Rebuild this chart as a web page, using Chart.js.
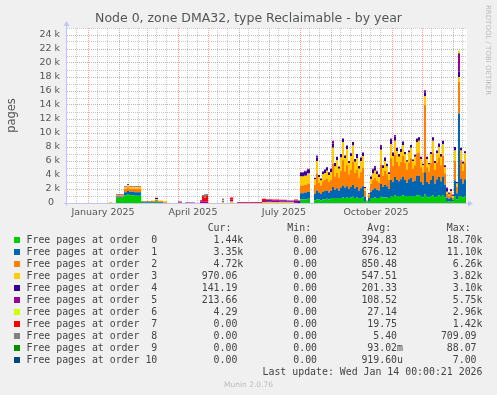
<!DOCTYPE html>
<html>
<head>
<meta charset="utf-8">
<script src="https://cdn.jsdelivr.net/npm/chart.js@4.4.1/dist/chart.umd.min.js"></script>
<style>
body { margin: 0; background: #f0f0f0; }
#wrap { position: relative; width: 497px; height: 395px; font-family: "DejaVu Sans", sans-serif; }
#c { position: absolute; left: 0; top: 0; }
.t { position: absolute; white-space: pre; }
.mono { font-family: "DejaVu Sans Mono", monospace; font-size: 9.9px; line-height: 12px; color: #444; }
.sq { position: absolute; width: 6px; height: 6px; }
</style>
</head>
<body>
<div id="wrap">
<canvas id="c" width="497" height="395"></canvas>
<div class="t" id="title" style="left:0;width:497px;top:10px;text-align:center;font-size:12.5px;line-height:15px;color:#555;">Node 0, zone DMA32, type Reclaimable - by year</div>
<div class="t" style="left:483px;top:5px;writing-mode:vertical-rl;font-size:7px;line-height:9px;color:#bbb;">RRDTOOL / TOBI OETIKER</div>
<div id="legend"></div>
<div class="t" style="left:0;width:497px;top:380px;text-align:center;font-size:7.5px;line-height:9px;color:#bbb;">Munin 2.0.76</div>
</div>
<script>
// x = day number, 0 = 11 Dec 2024, 400 = 14 Jan 2026 ; values in thousands of pages
var days = [0,42,45,49,57,60,62,67,74,84, 88,91,96,100,111,115,118,128,133,135, 137,139,141,155,157,163,166,170,195,199, 205,212,220,227,231,233,237,240,243,
  247,249,251,253,255,257,259,261,263,265, 267,269,271,273,275,277,279,281,283,285,
  287,289,291,293,295,297,299,301,303,305, 307,309,311,313,315,317,319,321,323,325,
  327,329,331,333,335,337,339,341,343,345, 347,349,351,353,355,357,359,361,363,365,
  367,369,371,373,375,377,379,381,383,385, 387,389,391,393,395,397,399];

var order0 = [0,0,0,0.75,1.1,1.2,1.1,1.05,0.02,0.05, 0.25,0,0,0,0,0,0,0,0,0, 0,0,0,0,0,0,0,0,0,0, 0,0,0,0,0,0.5,0.5,0.6,0,
  0.4,0.5,0.5,0.4,0.5,0.5,0.6,0.5,0.6,0.7, 0.6,0.7,0.6,0.7,0.8,0.7,0.8,0.7,0.8,0.9,
  0.7,0.8,0.6,0.7,0.8,0.3,0.1,0.3,0.6,0.7, 0.8,0.7,0.7,0.9,0.8,0.8,0.8,0.7,1.0,0.9,
  1.1,1.0,0.9,1.0,1.1,1.0,0.9,1.0,1.0,0.9, 1.0,1.1,1.1,0.9,0.8,1.2,0.9,0.8,1.0,1.1,
  0.8,1.0,1.1,0.9,1.1,0.8,0.3,0.2,0.3,0.2, 1.0,0.5,0.9,1.0,0.8,1.0,1.44];
var order1 = [0,0,0,0.15,0.45,0.5,0.5,0.5,0.15,0.1, 0.1,0.1,0,0,0,0,0,0,0,0, 0,0,0,0,0,0,0,0,0,0, 0,0,0,0,0,0.9,1.0,1.0,0,
  0.9,1.3,1.0,0.9,1.1,1.2,1.2,1.0,1.1,1.6, 1.3,1.4,1.2,1.5,1.7,1.5,1.6,1.3,1.5,1.7,
  1.4,1.5,1.2,1.4,1.6,0.6,0.1,0.4,1.0,1.2, 1.3,1.2,1.1,1.8,1.5,1.8,1.6,1.3,2.3,2.1,
  2.6,2.3,2.2,2.4,2.7,2.3,2.0,2.4,2.6,2.1, 2.2,2.8,2.8,2.1,1.8,3.2,2.1,1.9,2.3,2.8,
  2.0,2.4,2.6,2.2,2.7,1.8,0.5,0.4,0.5,0.3, 2.2,0.9,11.9,2.5,2.0,2.4,3.35];
var order2 = [0,0,0,0.2,0.5,0.55,0.45,0.5,0.1,0.15, 0.05,0.15,0.1,0,0,0,0,0,0,0, 0,0,0,0,0,0,0,0,0,0, 0,0,0,0,0,1.1,1.1,1.2,0,
  1.3,2.4,1.4,1.2,1.5,1.6,1.7,1.5,1.6,3.3, 1.9,2.2,1.8,2.4,3.6,2.3,3.0,2.1,2.5,3.3,
  2.2,2.4,1.8,2.3,2.6,0.8,0.1,0.4,1.1,1.4, 1.5,1.3,1.1,2.8,1.6,2.0,1.7,1.3,3.1,2.3,
  3.2,2.6,2.2,2.5,2.9,2.4,1.9,2.4,2.8,1.9, 2.2,3.2,3.3,2.1,1.8,9.6,2.1,1.8,2.4,3.3,
  1.9,2.4,2.8,2.3,3.0,1.6,0.5,0.4,0.6,0.3, 2.8,0.9,4.5,2.6,1.8,2.4,4.72];
var order3 = [0,0.15,0,0.05,0.2,0.3,0.25,0.25,0.03,0.05, 0.15,0.1,0.15,0,0.05,0,0,0,0,0, 0,0,0,0.1,0,0.2,0,0,0.1,0.15, 0.1,0.15,0.12,0,0,1.3,1.3,1.4,0,
  0.8,1.8,0.8,0.7,1.0,1.0,1.1,1.0,1.1,2.3, 1.4,1.8,1.3,1.9,2.6,1.9,2.3,1.6,1.9,2.3,
  1.6,1.7,1.3,1.6,1.7,0.4,0.05,0.2,0.7,0.9, 1.0,0.9,0.8,2.1,1.1,1.4,1.1,0.8,2.0,1.4,
  2.0,1.5,1.3,1.4,1.6,1.3,1.1,1.4,1.5,1.1, 1.2,1.6,1.7,1.2,1.0,1.3,1.2,1.0,1.3,1.7,
  1.0,1.3,1.5,1.2,1.6,0.9,0.3,0.2,0.3,0.2, 1.5,0.5,0.7,1.4,1.0,1.3,0.97];
var order4 = [0,0,0,0.05,0.1,0.1,0.05,0.05,0,0, 0.15,0,0,0,0,0,0,0,0,0, 0,0,0,0,0,0,0,0,0,0.05, 0.05,0.05,0.05,0.1,0.15,0.5,0.6,0.6,0,
  0.2,0.5,0.3,0.3,0.4,0.5,0.5,0.4,0.5,0.6, 0.5,0.5,0.3,0.5,0.5,0.4,0.5,0.3,0.4,0.5,
  0.4,0.6,0.4,0.5,0.5,0.2,0.05,0.1,0.4,0.5, 0.5,0.4,0.3,0.5,0.4,0.5,0.4,0.3,0.6,0.5,
  0.6,0.5,0.4,0.4,0.5,0.3,0.2,0.3,0.4,0.2, 0.3,0.5,0.5,0.3,0.2,0.5,0.3,0.2,0.3,0.5,
  0.3,0.4,0.5,0.4,0.5,0.3,0.4,0.2,0.2,0.1, 0.5,0.2,0.8,0.4,0.3,0.3,0.14];
var order5 = [0,0,0,0,0,0.05,0,0,0,0, 0.05,0,0,0,0.15,0,0.08,0,0.2,0.25, 0.25,0.2,0,0.15,0,0.3,0,0.05,0.2,0.25, 0.25,0.2,0.2,0.25,0.2,0.1,0.1,0.1,0,
  0,0.3,0,0,0,0,0,0,0,0.4, 0,0,0,0,0,0,0,0,0,0,
  0,0,0,0,0,0,0,0,0,0.2, 0.2,0.1,0.1,0.2,0,0,0,0,0.2,0,
  0.2,0,0,0,0,0,0,0,0,0, 0,0,0,0,0,0.3,0,0,0,0,
  0,0,0,0,0,0,0.2,0.1,0.1,0.1, 0,0,2.6,0,0,0,0.21];
var order6 = [0,0,0,0,0,0,0,0,0,0, 0,0,0,0,0,0,0,0,0,0, 0,0,0,0.1,0,0,0,0,0,0, 0,0,0,0,0,0,0,0,0,
  0,0,0,0,0,0,0,0,0,0, 0,0,0,0,0,0,0,0,0,0,
  0,0,0,0,0,0,0,0,0,0, 0,0,0,0,0,0,0,0,0,0,
  0,0,0,0,0,0,0,0,0,0, 0,0,0,0,0,0,0,0,0,0,
  0,0,0,0,0,0,0,0,0,0, 0,0,0.4,0,0,0,0.004];
var order7 = [0,0,0,0,0,0,0,0,0,0, 0,0,0,0,0,0,0,0,0.2,0.7, 0.5,0.8,0,0,0,0.3,0,0.08,0.3,0.1, 0.1,0.05,0,0.15,0,0,0,0,0,
  0,0,0,0,0,0,0,0,0,0, 0,0,0,0,0,0,0,0,0,0,
  0,0,0,0,0,0,0,0,0,0, 0,0,0,0,0,0,0,0,0,0,
  0,0,0,0,0,0,0,0,0,0, 0,0,0,0,0,0,0,0,0,0,
  0,0,0,0,0,0,0,0,0,0, 0,0,0,0,0,0,0];
var order8 = [0,0,0,0,0,0,0,0,0,0, 0,0,0,0,0,0,0,0,0,0.2, 0.5,0.3,0,0.3,0,0,0,0,0,0, 0,0,0,0,0,0,0,0,0,
  0,0,0,0,0,0,0,0,0,0, 0,0,0,0,0,0,0,0,0,0,
  0,0,0,0,0,0,0,0,0,0, 0,0,0,0,0,0,0,0,0,0,
  0,0,0,0,0,0,0,0,0,0, 0,0,0,0,0,0,0,0,0,0,
  0,0,0,0,0,0,0,0,0,0, 0,0,0,0,0,0,0];
var order9 = [0,0,0,0,0,0,0,0,0,0, 0,0,0,0,0,0,0,0,0,0, 0,0,0,0,0,0,0,0,0,0, 0,0,0,0,0,0,0,0,0,
  0,0,0,0,0,0,0,0,0,0, 0,0,0,0,0,0,0,0,0,0,
  0,0,0,0,0,0,0,0,0,0, 0,0,0,0,0,0,0,0,0,0,
  0,0,0,0,0,0,0,0,0,0, 0,0,0,0,0,0,0,0,0,0,
  0,0,0,0,0,0,0,0,0,0, 0,0,0,0,0,0,0];
var order10 = [0,0,0,0,0,0,0,0,0,0, 0,0,0,0,0,0,0,0,0,0, 0,0,0,0,0,0,0,0,0,0, 0,0,0,0,0,0,0,0,0,
  0,0,0,0,0,0,0,0,0,0, 0,0,0,0,0,0,0,0,0,0,
  0,0,0,0,0,0,0,0,0,0, 0,0,0,0,0,0,0,0,0,0,
  0,0,0,0,0,0,0,0,0,0, 0,0,0,0,0,0,0,0,0,0,
  0,0,0,0,0,0,0,0,0,0, 0,0,0,0,0,0,0];

var seriesNames = ['Free pages at order  0', 'Free pages at order  1', 'Free pages at order  2', 'Free pages at order  3',
  'Free pages at order  4', 'Free pages at order  5', 'Free pages at order  6', 'Free pages at order  7',
  'Free pages at order  8', 'Free pages at order  9', 'Free pages at order 10'];
var seriesColors = ['#00cc00', '#0066b3', '#ff8000', '#ffcc00', '#330099', '#990099', '#ccff00', '#ff0000', '#808080', '#008f00', '#00487d'];
var curText = ['1.44k', '3.35k', '4.72k', '970.06 ', '141.19 ', '213.66 ', '4.29 ', '0.00 ', '0.00 ', '0.00 ', '0.00 '];
var minText = ['0.00 ', '0.00 ', '0.00 ', '0.00 ', '0.00 ', '0.00 ', '0.00 ', '0.00 ', '0.00 ', '0.00 ', '0.00 '];
var avgText = ['394.83 ', '676.12 ', '850.48 ', '547.51 ', '201.33 ', '108.52 ', '27.14 ', '19.75 ', '5.40 ', '93.02m', '919.60u'];
var maxText = ['18.70k', '11.10k', '6.26k', '3.82k', '3.10k', '5.75k', '2.96k', '1.42k', '709.09 ', '88.07 ', '7.00 '];

var monthStarts = [21, 52, 80, 111, 141, 172, 202, 233, 264, 294, 325, 355, 386];
var minorDays = [9, 30, 40, 61, 71, 89, 99, 120, 130, 150, 160, 181, 191, 211, 221, 242, 252, 273, 283, 303, 313, 334, 344, 364, 374, 395];
var labelDays = [36, 126, 217, 309];
var monthLabels = ['January 2025', 'April 2025', 'July 2025', 'October 2025'];

var majorGrid = 'rgba(230, 90, 90, 0.55)';
var minorGrid = 'rgba(150, 150, 150, 0.5)';
var axisColor = '#c4c4ee';

var allSeries = [order0, order1, order2, order3, order4, order5, order6, order7, order8, order9, order10];
var datasets = allSeries.map(function(s, i) {
  return {
    label: seriesNames[i],
    data: s.map(function(v, j) { return {x: days[j], y: v}; }),
    backgroundColor: seriesColors[i],
    borderColor: 'rgba(0,0,0,0)',
    borderWidth: 0,
    pointRadius: 0,
    stepped: true,
    fill: i === 0 ? 'origin' : '-1'
  };
});

var xTicks = monthStarts.concat(minorDays, labelDays).sort(function(a, b) { return a - b; });

var bgPlugin = {
  id: 'bg',
  beforeDraw: function(chart) {
    var a = chart.chartArea, ctx = chart.ctx;
    ctx.save();
    ctx.fillStyle = '#f0f0f0';
    ctx.fillRect(0, 0, chart.width, chart.height);
    ctx.fillStyle = '#ffffff';
    ctx.fillRect(a.left, a.top, a.right - a.left, a.bottom - a.top);
    ctx.restore();
  }
};

var axisPlugin = {
  id: 'axes',
  afterDatasetsDraw: function(chart) {
    var a = chart.chartArea, ctx = chart.ctx;
    var x0 = Math.round(a.left) - 0.5, y0 = Math.round(a.bottom) + 0.5;
    ctx.save();
    ctx.strokeStyle = axisColor;
    ctx.fillStyle = axisColor;
    ctx.lineWidth = 1;
    ctx.beginPath();
    ctx.moveTo(x0, a.bottom + 3);
    ctx.lineTo(x0, a.top - 2);
    ctx.moveTo(a.left - 3, y0);
    ctx.lineTo(a.right + 2, y0);
    ctx.stroke();
    ctx.beginPath();
    ctx.moveTo(x0 - 3, a.top - 2);
    ctx.lineTo(x0 + 3, a.top - 2);
    ctx.lineTo(x0, a.top - 7);
    ctx.closePath();
    ctx.fill();
    ctx.beginPath();
    ctx.moveTo(a.right + 1, y0 - 3);
    ctx.lineTo(a.right + 1, y0 + 3);
    ctx.lineTo(a.right + 6, y0);
    ctx.closePath();
    ctx.fill();
    ctx.restore();
  }
};

new Chart(document.getElementById('c'), {
  type: 'line',
  data: { datasets: datasets },
  options: {
    responsive: false,
    animation: false,
    devicePixelRatio: 1,
    layout: { padding: { top: 28, right: 30, left: 0, bottom: 0 } },
    plugins: { legend: { display: false }, tooltip: { enabled: false } },
    scales: {
      x: {
        type: 'linear', min: 0, max: 400,
        afterBuildTicks: function(s) { s.ticks = xTicks.map(function(v) { return {value: v}; }); },
        afterFit: function(s) { s.height = 192; },
        grid: {
          drawTicks: false,
          color: function(c) {
            if (!c.tick) return 'rgba(0,0,0,0)';
            if (monthStarts.indexOf(c.tick.value) >= 0) return majorGrid;
            if (minorDays.indexOf(c.tick.value) >= 0) return minorGrid;
            return 'rgba(0,0,0,0)';
          }
        },
        border: { display: false, dash: [1, 1] },
        ticks: {
          autoSkip: false, maxRotation: 0, padding: 4, color: '#555',
          font: { family: 'DejaVu Sans', size: 9.5 },
          callback: function(v) {
            var k = labelDays.indexOf(v);
            return k >= 0 ? monthLabels[k] : '';
          }
        }
      },
      y: {
        stacked: true, min: 0, max: 25,
        afterFit: function(s) { s.width = 67; },
        grid: {
          drawTicks: false,
          color: function(c) { return c.tick && c.tick.value % 2 === 0 ? majorGrid : minorGrid; }
        },
        border: { display: false, dash: [1, 1] },
        ticks: {
          stepSize: 1, autoSkip: false, padding: 7, color: '#555',
          font: { family: 'DejaVu Sans', size: 9.5 },
          callback: function(v) { return v % 2 ? '' : (v === 0 ? '0  ' : v + ' k'); }
        },
        title: {
          display: true, text: 'pages', color: '#555',
          font: { family: 'DejaVu Sans', size: 11.5 },
          padding: { top: 5, bottom: 0 }
        }
      }
    }
  },
  plugins: [bgPlugin, axisPlugin]
});

// legend table below the graph
var leg = document.getElementById('legend');
function addText(txt, x, top, right) {
  var d = document.createElement('div');
  d.className = 't mono';
  d.textContent = txt;
  d.style.top = top + 'px';
  if (right) { d.style.right = (497 - x) + 'px'; } else { d.style.left = x + 'px'; }
  leg.appendChild(d);
}
var colEdges = [243.3, 323, 403, 482.5];
var heads = ['Cur:  ', 'Min:  ', 'Avg:  ', 'Max:  '];
heads.forEach(function(h, k) { addText(h, colEdges[k], 222, true); });
seriesNames.forEach(function(n, i) {
  var top = 234 + 12 * i;
  var sq = document.createElement('div');
  sq.className = 'sq';
  sq.style.left = '14px';
  sq.style.top = (top + 3) + 'px';
  sq.style.background = seriesColors[i];
  leg.appendChild(sq);
  addText(n, 26.5, top, false);
  addText(curText[i], colEdges[0], top, true);
  addText(minText[i], colEdges[1], top, true);
  addText(avgText[i], colEdges[2], top, true);
  addText(maxText[i], colEdges[3], top, true);
});
addText('Last update: Wed Jan 14 00:00:21 2026', 482.5, 366, true);
</script>
</body>
</html>
